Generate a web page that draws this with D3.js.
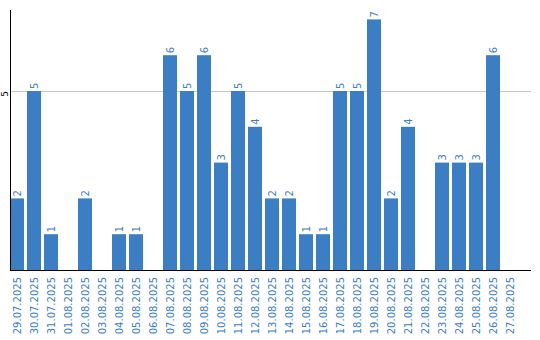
<!DOCTYPE html>
<html>
<head>
<meta charset="utf-8">
<script src="https://cdn.jsdelivr.net/npm/d3@7"></script>
<style>
  body { margin: 0; background: #fff; }
  text { font-family: "DejaVu Sans", sans-serif; }
</style>
</head>
<body>
<div id="chart"></div>
<script>
const dates = ["29.07.2025","30.07.2025","31.07.2025","01.08.2025","02.08.2025","03.08.2025",
  "04.08.2025","05.08.2025","06.08.2025","07.08.2025","08.08.2025","09.08.2025","10.08.2025",
  "11.08.2025","12.08.2025","13.08.2025","14.08.2025","15.08.2025","16.08.2025","17.08.2025",
  "18.08.2025","19.08.2025","20.08.2025","21.08.2025","22.08.2025","23.08.2025","24.08.2025",
  "25.08.2025","26.08.2025","27.08.2025"]
const counts = [2,5,1,0,2,0,1,1,0,6,5,6,3,5,4,2,2,1,1,5,5,7,2,4,0,3,3,3,6,0]
const yTicks = [5]

const width = 540, height = 340
const margin = { left: 10, right: 531, top: 10, bottom: 270 }
const blue = "#3b7ec3"

const svg = d3.select("#chart").append("svg")
  .attr("width", width)
  .attr("height", height)

const x = d3.scaleBand()
  .domain(dates)
  .range([margin.left, margin.left + 17 * dates.length - 3])
  .paddingInner(3 / 17)
  .paddingOuter(0)

// 5 sits at y=91, 0 at y=270
const y = d3.scaleLinear()
  .domain([0, 5 * (margin.bottom - margin.top) / (margin.bottom - 91)])
  .range([margin.bottom, margin.top])

// grid
svg.selectAll(".grid")
  .data(yTicks)
  .enter().append("line")
  .attr("x1", margin.left).attr("x2", margin.right)
  .attr("y1", d => Math.round(y(d)) + 0.5).attr("y2", d => Math.round(y(d)) + 0.5)
  .attr("stroke", "#c8c8c8")

// tick labels
svg.selectAll(".ytick")
  .data(yTicks)
  .enter().append("text")
  .attr("transform", d => `translate(8,${y(d) + 3}) rotate(-90)`)
  .attr("text-anchor", "middle")
  .attr("font-size", "9px")
  .attr("fill", "#000")
  .text(d => d)

// bars
svg.selectAll(".bar")
  .data(counts)
  .enter().append("rect")
  .attr("x", (d, i) => x(dates[i]))
  .attr("width", x.bandwidth())
  .attr("y", d => y(d))
  .attr("height", d => margin.bottom - y(d))
  .attr("fill", blue)

// value labels
counts.forEach((d, i) => {
  if (d <= 0) return
  svg.append("text")
    .attr("transform", `translate(${x(dates[i]) + x.bandwidth() / 2 + 4},${y(d) - 2}) rotate(-90)`)
    .attr("font-size", "10px")
    .attr("fill", blue)
    .text(d)
})

// axes lines
svg.append("line")
  .attr("x1", margin.left + 0.5).attr("x2", margin.left + 0.5)
  .attr("y1", margin.top).attr("y2", margin.bottom)
  .attr("stroke", "#000")
svg.append("line")
  .attr("x1", margin.left).attr("x2", margin.right)
  .attr("y1", margin.bottom + 0.5).attr("y2", margin.bottom + 0.5)
  .attr("stroke", "#000")

// date labels
svg.selectAll(".xlab")
  .data(dates)
  .enter().append("text")
  .attr("transform", d => `translate(${x(d) + x.bandwidth() / 2 + 4},${margin.bottom + 7}) rotate(-90)`)
  .attr("text-anchor", "end")
  .attr("font-size", "10px")
  .attr("fill", blue)
  .text(d => d)
</script>
</body>
</html>
